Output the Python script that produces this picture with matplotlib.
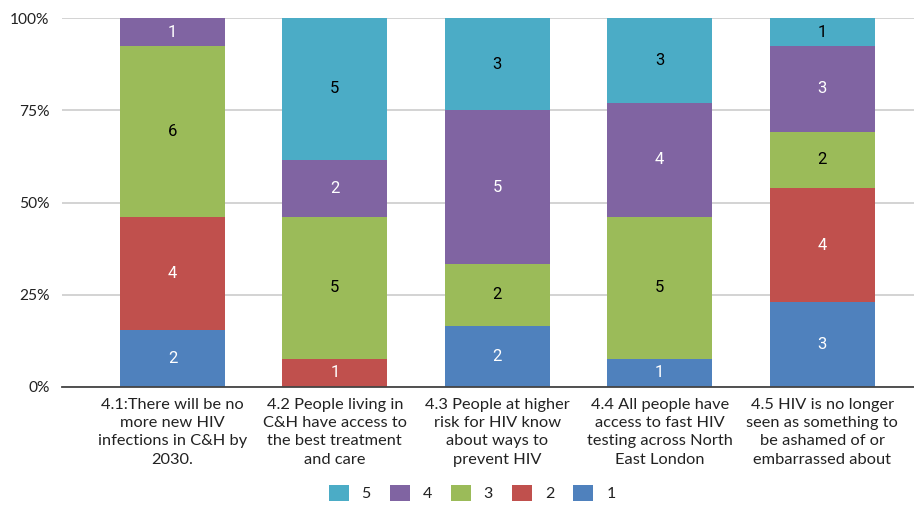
import matplotlib
matplotlib.use("Agg")
import matplotlib.pyplot as plt
import numpy as np

categories = [
    "4.1:There will be no\nmore new HIV\ninfections in C&H by\n2030.",
    "4.2 People living in\nC&H have access to\nthe best treatment\nand care",
    "4.3 People at higher\nrisk for HIV know\nabout ways to\nprevent HIV",
    "4.4 All people have\naccess to fast HIV\ntesting across North\nEast London",
    "4.5 HIV is no longer\nseen as something to\nbe ashamed of or\nembarrassed about",
]
series_names = ["1", "2", "3", "4", "5"]
s1 = [2, 0, 2, 1, 3]
s2 = [4, 1, 0, 0, 4]
s3 = [6, 5, 2, 5, 2]
s4 = [1, 2, 5, 4, 3]
s5 = [0, 5, 3, 3, 1]
yticks = [0, 25, 50, 75, 100]
ytick_labels = ["0%", "25%", "50%", "75%", "100%"]

colors = ["#4F81BD", "#C0504D", "#9BBB59", "#8064A2", "#4BACC6"]
text_colors = ["white", "white", "black", "white", "black"]

W, H = 914, 505
fig = plt.figure(figsize=(W / 100, H / 100), dpi=100)
ax = fig.add_axes([62 / W, (H - 387) / H, (914 - 62) / W, (387 - 18) / H])

data = np.array([s1, s2, s3, s4, s5], dtype=float)
totals = data.sum(axis=0)
pct = data / totals * 100
x = np.arange(len(categories))
bottom = np.zeros(len(categories))
bw = 0.646
for i, name in enumerate(series_names):
    ax.bar(x, pct[i], bw, bottom=bottom, color=colors[i], label=name, zorder=2, linewidth=0)
    for j in range(len(categories)):
        if data[i, j] > 0:
            ax.text(x[j], bottom[j] + pct[i, j] / 2, f"{int(data[i, j])}",
                    ha="center", va="center", color=text_colors[i],
                    fontsize=12, family="Roboto", zorder=3)
    bottom += pct[i]

ax.set_ylim(0, 100)
ax.set_xlim(-0.680, 4.566)
ax.set_yticks(yticks)
ax.set_yticklabels(ytick_labels, family="Lato", fontsize=11.2, color="#222222")
ax.set_xticks(x)
ax.set_xticklabels(categories, family="Lato", fontsize=11.8, color="#222222")
for lbl in ax.get_xticklabels():
    lbl.set_linespacing(1.38)
ax.tick_params(axis="both", length=0)
ax.tick_params(axis="x", pad=8)
ax.tick_params(axis="y", pad=9)
ax.yaxis.grid(True, color="#cccccc", linewidth=1.2, zorder=0)
for s in ["top", "right", "left"]:
    ax.spines[s].set_visible(False)
ax.spines["bottom"].set_color("#444444")
ax.spines["bottom"].set_linewidth(1.3)
ax.spines["bottom"].set_zorder(4)

handles, labels = ax.get_legend_handles_labels()
leg = fig.legend(handles[::-1], labels[::-1], loc="center", bbox_to_anchor=(472 / W, (H - 493) / H),
                 ncol=5, frameon=False, handlelength=1.25, handleheight=1.25,
                 columnspacing=1.2, handletextpad=0.8,
                 prop={"family": "Lato", "size": 11.5})
for t in leg.get_texts():
    t.set_color("#222222")

fig.savefig("out.png", dpi=100)
